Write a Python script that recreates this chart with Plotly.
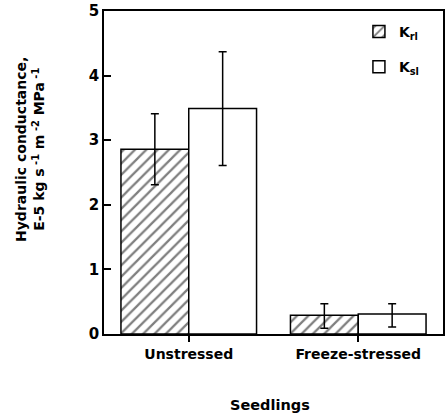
import plotly.graph_objects as go

categories = ["Unstressed", "Freeze-stressed"]
k_rl = [2.86, 0.29]
k_rl_err_plus = [0.55, 0.18]
k_rl_err_minus = [0.55, 0.20]
k_sl = [3.49, 0.31]
k_sl_err_plus = [0.88, 0.16]
k_sl_err_minus = [0.88, 0.20]

font_family = "DejaVu Sans, Liberation Sans, Arial, sans-serif"

fig = go.Figure()
fig.add_trace(go.Bar(
    x=categories, y=k_rl, name="K<sub>rl</sub>", legendgroup="a",
    marker=dict(color="white", line=dict(color="black", width=1.5),
                pattern=dict(shape="/", fgcolor="black", bgcolor="white", size=8, solidity=0.28)),
    error_y=dict(type="data", symmetric=False, array=k_rl_err_plus, arrayminus=k_rl_err_minus,
                 color="black", thickness=1.5, width=4),
))
fig.add_trace(go.Bar(
    x=categories, y=k_sl, name="K<sub>sl</sub>", legendgroup="b",
    marker=dict(color="white", line=dict(color="black", width=1.5)),
    error_y=dict(type="data", symmetric=False, array=k_sl_err_plus, arrayminus=k_sl_err_minus,
                 color="black", thickness=1.5, width=4),
))

fig.update_layout(
    width=446, height=417,
    margin=dict(l=104, r=3, t=11, b=83),
    paper_bgcolor="white", plot_bgcolor="white",
    barmode="group", bargap=0.2, bargroupgap=0,
    font=dict(family=font_family, color="black", size=13, weight="bold"),
    showlegend=True,
    legend=dict(x=0.752, y=0.985, xanchor="left", yanchor="top", bgcolor="rgba(0,0,0,0)",
                tracegroupgap=14, font=dict(size=14)),
    xaxis=dict(range=[-0.5, 1.5], showline=True, linecolor="black", linewidth=1.5, mirror=True,
               ticks="outside", ticklen=6, tickcolor="black", tickwidth=1.5,
               tickfont=dict(size=14), showgrid=False, zeroline=False, automargin=False),
    yaxis=dict(range=[0, 5], dtick=1, showline=True, linecolor="black", linewidth=1.5, mirror=True,
               ticks="inside", ticklen=7, tickcolor="black", tickwidth=1.5,
               tickfont=dict(size=15), showgrid=False, zeroline=False,
               ticklabeloverflow="allow", automargin=False),
    annotations=[
        dict(text="Hydraulic conductance,<br>E-5 kg s<sup> -1</sup> m<sup> -2</sup> MPa<sup> -1</sup>",
             xref="paper", yref="paper", x=-0.218, y=0.57, textangle=-90,
             showarrow=False, xanchor="center", yanchor="middle", font=dict(size=14)),
        dict(text="Seedlings", xref="paper", yref="paper", x=0.49, y=-0.22,
             showarrow=False, xanchor="center", yanchor="middle", font=dict(size=14.5)),
    ],
)

fig.write_html("out.html", config={"displayModeBar": False},
               post_script="document.body.style.margin='0';")
